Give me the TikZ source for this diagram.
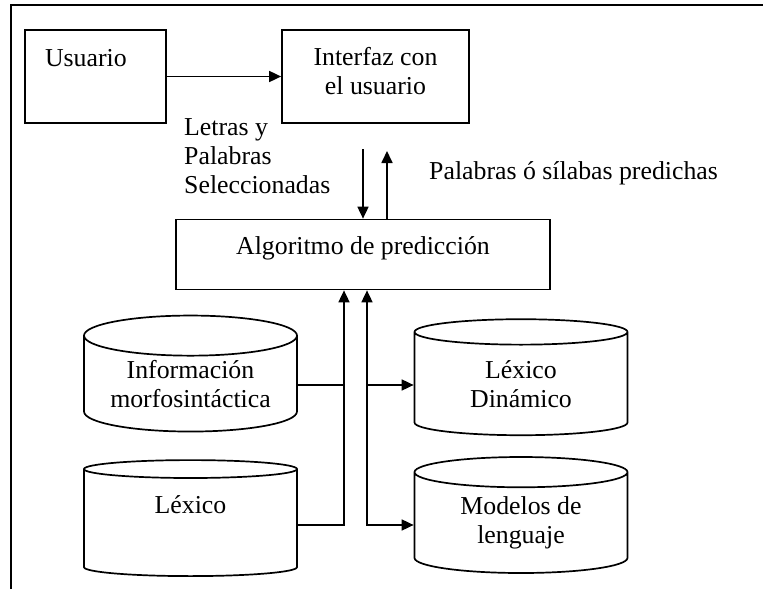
\documentclass[tikz,border=0pt]{standalone}
\usepackage{fontspec}
\setmainfont{Liberation Serif}
\usetikzlibrary{positioning}
\usetikzlibrary{arrows.meta}
\usetikzlibrary{shapes.geometric}

\tikzset{
  txt/.style={font=\fontsize{25.8pt}{29pt}\selectfont},
  blk/.style={txt,draw,line width=1.7pt,inner sep=0pt,align=center},
  db/.style={txt,draw,line width=1.7pt,cylinder,shape border rotate=90,aspect=0.25,
    minimum width=213pt,minimum height=116pt,inner sep=0pt,align=center},
  arr/.style={line width=1.7pt,-{Triangle[length=12pt,width=11pt]}},
  arrb/.style={line width=1.7pt,{Triangle[length=12pt,width=11pt]}-{Triangle[length=12pt,width=11pt]}},
  ln/.style={line width=1.7pt}
}

\begin{document}
\begin{tikzpicture}[x=1pt,y=-1pt]
\useasboundingbox (0,0) rectangle (763,589);
\draw [ln] (11,589) -- (11,5) -- (763,5);

\node [blk,minimum width=141pt,minimum height=93pt,text width=101pt,align=left] (usuario) at (95.5,76.5) {Usuario\\\strut};
\node [blk,minimum width=187pt,minimum height=93pt] (interfaz) at (375.5,76.5) {Interfaz con\\el usuario\\[-26pt]\strut};
\node [blk,minimum width=374pt,minimum height=70pt] (algo) at (363,254.5) {Algoritmo de predicci\'on\\[-20pt]\strut};

\node [db] (info) at (190.5,384) {Informaci\'on\\morfosint\'actica};
\node [db] (lexico) at (190.5,523) {L\'exico\\\strut};
\node [db] (dinamico) at (521,384) {L\'exico\\Din\'amico};
\node [db] (modelos) at (521,523) {Modelos de\\lenguaje};

\node [txt,anchor=west,align=left,inner sep=0pt] (selec) at (184,156) {Letras y\\Palabras\\Seleccionadas};
\node [txt,anchor=west,inner sep=0pt] (predichas) at (429,173) {Palabras \'o s\'ilabas predichas};

\draw [arr] (usuario.east) -- (interfaz.west);

\coordinate (bajaA) at (363,149);
\coordinate (subeB) at (387,151);
\draw [arr] (bajaA) -- (algo.north);
\draw [arr] (algo.north -| subeB) -- (subeB);

\coordinate (troncoL) at ([xshift=-19pt]algo.south);
\coordinate (troncoR) at ([xshift=4pt]algo.south);
\coordinate (infoout) at ([yshift=-1pt]info.east);
\coordinate (lexout) at ([yshift=-2pt]lexico.east);
\coordinate (dinin) at ([yshift=-1pt]dinamico.west);
\coordinate (modin) at ([yshift=-2pt]modelos.west);

\draw [arr] (lexout) -| (troncoL);
\draw [ln] (infoout) -- (infoout -| troncoL);
\draw [arrb] (troncoR) |- (modin);
\draw [arr] (dinin -| troncoR) -- (dinin);
\end{tikzpicture}
\end{document}
